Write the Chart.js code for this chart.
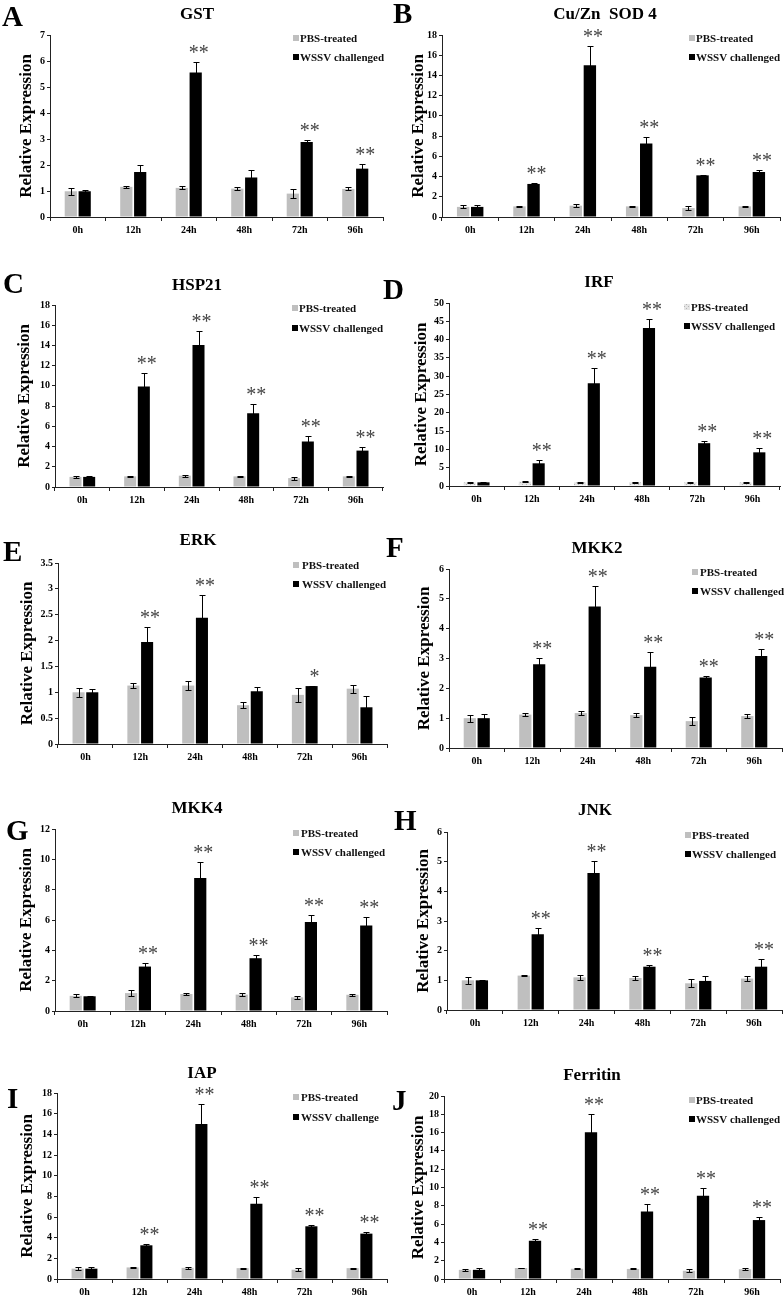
<!DOCTYPE html>
<html>
<head>
<meta charset="utf-8">
<title>Relative expression after WSSV challenge</title>
<script src="https://cdn.jsdelivr.net/npm/chart.js@4.4.1/dist/chart.umd.min.js"></script>
<style>
  html, body { margin: 0; padding: 0; background: #fff; }
  #figure { position: relative; width: 784px; height: 1296px; overflow: hidden; background: #fff; }
  #figure canvas { position: absolute; }
</style>
</head>
<body>
<div id="figure"></div>
<script>
/* ---------- data ---------- */
const timePoints = ['0h', '12h', '24h', '48h', '72h', '96h'];
const pbsName = 'PBS-treated';
const wssvName = 'WSSV challenged';

// A  GST
const gstPbs = [0.99, 1.16, 1.12, 1.09, 0.90, 1.08];
const gstPbsErr = [0.13, 0.04, 0.06, 0.07, 0.16, 0.06];
const gstWssv = [0.99, 1.73, 5.56, 1.52, 2.88, 1.86];
const gstWssvErr = [0.06, 0.26, 0.41, 0.30, 0.09, 0.17];
const gstSig = ['', '', '**', '', '**', '**'];

// B  Cu/Zn SOD 4
const sodPbs = [1.00, 1.05, 1.12, 1.05, 0.88, 1.05];
const sodPbsErr = [0.15, 0.05, 0.12, 0.05, 0.20, 0.05];
const sodWssv = [1.00, 3.27, 15.0, 7.26, 4.12, 4.45];
const sodWssvErr = [0.15, 0.05, 1.95, 0.70, 0.05, 0.22];
const sodSig = ['', '**', '**', '**', '**', '**'];

// C  HSP21
const hspPbs = [1.00, 1.05, 1.12, 1.05, 0.88, 1.05];
const hspPbsErr = [0.12, 0.05, 0.10, 0.05, 0.15, 0.05];
const hspWssv = [1.00, 9.93, 14.05, 7.30, 4.50, 3.60];
const hspWssvErr = [0.12, 1.30, 1.40, 0.90, 0.50, 0.40];
const hspSig = ['', '**', '**', '**', '**', '**'];

// D  IRF
const irfPbs = [1.00, 1.20, 1.00, 1.00, 1.00, 1.00];
const irfPbsErr = [0.10, 0.10, 0.10, 0.10, 0.10, 0.10];
const irfWssv = [1.00, 6.20, 28.1, 43.2, 11.7, 9.20];
const irfWssvErr = [0.10, 0.90, 4.10, 2.50, 0.60, 1.10];
const irfSig = ['', '**', '**', '**', '**', '**'];

// E  ERK
const erkPbs = [1.00, 1.13, 1.13, 0.75, 0.95, 1.07];
const erkPbsErr = [0.09, 0.04, 0.08, 0.06, 0.13, 0.08];
const erkWssv = [1.00, 1.97, 2.44, 1.02, 1.12, 0.71];
const erkWssvErr = [0.07, 0.30, 0.44, 0.08, 0.01, 0.22];
const erkSig = ['', '**', '**', '', '*', ''];

// F  MKK2
const mkk2Pbs = [1.00, 1.12, 1.17, 1.10, 0.90, 1.07];
const mkk2PbsErr = [0.12, 0.04, 0.08, 0.06, 0.13, 0.06];
const mkk2Wssv = [1.00, 2.81, 4.74, 2.72, 2.36, 3.08];
const mkk2WssvErr = [0.13, 0.20, 0.70, 0.50, 0.05, 0.25];
const mkk2Sig = ['', '**', '**', '**', '**', '**'];

// G  MKK4
const mkk4Pbs = [1.00, 1.18, 1.12, 1.08, 0.90, 1.07];
const mkk4PbsErr = [0.10, 0.18, 0.06, 0.10, 0.12, 0.05];
const mkk4Wssv = [0.97, 2.93, 8.77, 3.48, 5.86, 5.64];
const mkk4WssvErr = [0.04, 0.22, 1.03, 0.22, 0.46, 0.55];
const mkk4Sig = ['', '**', '**', '**', '**', '**'];

// H  JNK
const jnkPbs = [1.00, 1.16, 1.10, 1.08, 0.90, 1.06];
const jnkPbsErr = [0.12, 0.03, 0.08, 0.08, 0.14, 0.07];
const jnkWssv = [1.00, 2.55, 4.62, 1.46, 0.98, 1.46];
const jnkWssvErr = [0.02, 0.20, 0.40, 0.05, 0.15, 0.26];
const jnkSig = ['', '**', '**', '**', '', '**'];

// I  IAP
const iapPbs = [1.00, 1.12, 1.08, 1.05, 0.90, 1.05];
const iapPbsErr = [0.15, 0.05, 0.12, 0.05, 0.15, 0.05];
const iapWssv = [1.00, 3.26, 15.0, 7.29, 5.10, 4.39];
const iapWssvErr = [0.12, 0.15, 1.95, 0.62, 0.10, 0.20];
const iapSig = ['', '**', '**', '**', '**', '**'];

// J  Ferritin
const ferPbs = [1.00, 1.20, 1.12, 1.10, 0.90, 1.07];
const ferPbsErr = [0.12, 0.05, 0.04, 0.05, 0.15, 0.10];
const ferWssv = [1.00, 4.18, 16.04, 7.38, 9.09, 6.44];
const ferWssvErr = [0.18, 0.20, 1.96, 0.80, 0.90, 0.30];
const ferSig = ['', '**', '**', '**', '**', '**'];

/* ---------- style ---------- */
const FONT = "'Liberation Serif', 'Times New Roman', serif";
const PBS_GRAY = '#bfbfbf';
const AXIS = '#222';

Chart.defaults.font.family = FONT;
Chart.defaults.color = '#000';

// 點狀樣式（IRF 的 PBS 組）
function hatchPattern() {
  const c = document.createElement('canvas');
  c.width = 4; c.height = 4;
  const g = c.getContext('2d');
  g.fillStyle = '#e4e4e4';
  g.fillRect(0, 0, 4, 4);
  g.fillStyle = '#b4b4b4';
  g.fillRect(0, 0, 1, 1);
  g.fillRect(2, 2, 1, 1);
  return g.createPattern(c, 'repeat');
}

/* ---------- panels (layout in page pixels) ---------- */
const LEFT = { x: 0, w: 392 };
const RIGHT = { x: 378, w: 406 };

const panels = [
  { letter: 'A', lx: 2, ly: 26, title: 'GST', tx: 197, ty: 19, col: LEFT, top: 0, h: 260,
    plot: [50, 35, 383, 217], yMax: 7, yStep: 1, yTitleX: 27,
    leg: [293, 300, 38, 57], pbs: gstPbs, pbsErr: gstPbsErr, wssv: gstWssv, wssvErr: gstWssvErr, sig: gstSig },
  { letter: 'B', lx: 393, ly: 23, title: 'Cu/Zn  SOD 4', tx: 605, ty: 19, col: RIGHT, top: 0, h: 260,
    plot: [442, 35, 780, 217], yMax: 18, yStep: 2, yTitleX: 419,
    leg: [689, 696, 38, 57], pbs: sodPbs, pbsErr: sodPbsErr, wssv: sodWssv, wssvErr: sodWssvErr, sig: sodSig },
  { letter: 'C', lx: 3, ly: 293, title: 'HSP21', tx: 197, ty: 290, col: LEFT, top: 260, h: 260,
    plot: [55, 305, 383, 487], yMax: 18, yStep: 2, yTitleX: 25,
    leg: [292, 299, 308, 328], pbs: hspPbs, pbsErr: hspPbsErr, wssv: hspWssv, wssvErr: hspWssvErr, sig: hspSig },
  { letter: 'D', lx: 383, ly: 299, title: 'IRF', tx: 599, ty: 287, col: RIGHT, top: 260, h: 260,
    plot: [449, 303, 780, 486], yMax: 50, yStep: 5, yTitleX: 422, hatch: true,
    leg: [684, 691, 307, 326], pbs: irfPbs, pbsErr: irfPbsErr, wssv: irfWssv, wssvErr: irfWssvErr, sig: irfSig },
  { letter: 'E', lx: 3, ly: 561, title: 'ERK', tx: 198, ty: 545, col: LEFT, top: 520, h: 260,
    plot: [58, 563, 387, 744], yMax: 3.5, yStep: 0.5, yTitleX: 28,
    leg: [293, 302, 565, 584], pbs: erkPbs, pbsErr: erkPbsErr, wssv: erkWssv, wssvErr: erkWssvErr, sig: erkSig },
  { letter: 'F', lx: 386, ly: 557, title: 'MKK2', tx: 597, ty: 553, col: RIGHT, top: 520, h: 260,
    plot: [449, 569, 782, 748], yMax: 6, yStep: 1, yTitleX: 425,
    leg: [692, 700, 572, 591], pbs: mkk2Pbs, pbsErr: mkk2PbsErr, wssv: mkk2Wssv, wssvErr: mkk2WssvErr, sig: mkk2Sig },
  { letter: 'G', lx: 6, ly: 840, title: 'MKK4', tx: 197, ty: 813, col: LEFT, top: 780, h: 260,
    plot: [55, 829, 387, 1011], yMax: 12, yStep: 2, yTitleX: 27,
    leg: [293, 301, 833, 852], pbs: mkk4Pbs, pbsErr: mkk4PbsErr, wssv: mkk4Wssv, wssvErr: mkk4WssvErr, sig: mkk4Sig },
  { letter: 'H', lx: 394, ly: 830, title: 'JNK', tx: 595, ty: 815, col: RIGHT, top: 780, h: 260,
    plot: [447, 832, 782, 1010], yMax: 6, yStep: 1, yTitleX: 424,
    leg: [685, 692, 835, 854], pbs: jnkPbs, pbsErr: jnkPbsErr, wssv: jnkWssv, wssvErr: jnkWssvErr, sig: jnkSig },
  { letter: 'I', lx: 7, ly: 1108, title: 'IAP', tx: 202, ty: 1078, col: LEFT, top: 1040, h: 256,
    plot: [57, 1093, 387, 1279], yMax: 18, yStep: 2, yTitleX: 28, wssvLabel: 'WSSV challenge',
    leg: [293, 301, 1097, 1117], pbs: iapPbs, pbsErr: iapPbsErr, wssv: iapWssv, wssvErr: iapWssvErr, sig: iapSig },
  { letter: 'J', lx: 392, ly: 1110, title: 'Ferritin', tx: 592, ty: 1080, col: RIGHT, top: 1040, h: 256,
    plot: [444, 1096, 780, 1279], yMax: 20, yStep: 2, yTitleX: 419,
    leg: [689, 696, 1100, 1119], pbs: ferPbs, pbsErr: ferPbsErr, wssv: ferWssv, wssvErr: ferWssvErr, sig: ferSig }
];

const X_AXIS_H = 22;

/**
 * 單一面板
 */
function makePanel(p) {
  const fig = document.getElementById('figure');
  const canvas = document.createElement('canvas');
  const ox = p.col.x, oy = p.top, w = p.col.w, h = p.h;
  canvas.width = w;
  canvas.height = h;
  canvas.style.left = ox + 'px';
  canvas.style.top = oy + 'px';
  canvas.style.width = w + 'px';
  canvas.style.height = h + 'px';
  fig.appendChild(canvas);

  const [l, t, r, b] = p.plot;
  const pbsFill = p.hatch ? hatchPattern() : PBS_GRAY;

  // 誤差線、星號、圖例、標題
  const decor = {
    id: 'decor' + p.letter,
    afterDatasetsDraw(chart) {
      const ctx = chart.ctx;
      const ys = chart.scales.y;
      ctx.save();
      ctx.strokeStyle = '#000';
      ctx.lineWidth = 1;
      chart.data.datasets.forEach((ds, di) => {
        const meta = chart.getDatasetMeta(di);
        meta.data.forEach((bar, i) => {
          const x = Math.round(bar.x) + 0.5;
          const yTop = Math.round(ys.getPixelForValue(ds.data[i] + ds.err[i])) + 0.5;
          const yBot = Math.round(ys.getPixelForValue(Math.max(ds.data[i] - ds.err[i], 0))) + 0.5;
          ctx.beginPath();
          ctx.moveTo(x, yTop); ctx.lineTo(x, yBot);
          ctx.moveTo(x - 3, yTop); ctx.lineTo(x + 3, yTop);
          ctx.moveTo(x - 3, yBot); ctx.lineTo(x + 3, yBot);
          ctx.stroke();
        });
      });

      // 顯著性星號
      const wd = chart.data.datasets[1];
      const wm = chart.getDatasetMeta(1);
      ctx.fillStyle = '#444';
      ctx.font = '20px ' + FONT;
      ctx.textAlign = 'center';
      ctx.textBaseline = 'alphabetic';
      p.sig.forEach((s, i) => {
        if (!s) return;
        const yTop = ys.getPixelForValue(wd.data[i] + wd.err[i]);
        ctx.fillText(s, wm.data[i].x + 3, yTop - 3);
      });
      ctx.restore();
    },
    afterDraw(chart) {
      const ctx = chart.ctx;
      ctx.save();
      ctx.fillStyle = '#000';
      ctx.textBaseline = 'alphabetic';

      // 面板字母
      ctx.font = 'bold 29px ' + FONT;
      ctx.textAlign = 'left';
      ctx.fillText(p.letter, p.lx - ox, p.ly - oy);

      // 標題
      ctx.font = 'bold 17px ' + FONT;
      ctx.textAlign = 'center';
      ctx.fillText(p.title, p.tx - ox, p.ty - oy);

      // Y 軸標題
      ctx.save();
      ctx.translate(p.yTitleX - ox, (t + b) / 2 - oy);
      ctx.rotate(-Math.PI / 2);
      ctx.font = 'bold 17px ' + FONT;
      ctx.textAlign = 'center';
      ctx.textBaseline = 'middle';
      ctx.fillText('Relative Expression', 0, 0);
      ctx.restore();

      // 圖例
      const [sx, txx, y1, y2] = p.leg;
      ctx.font = 'bold 11px ' + FONT;
      ctx.textAlign = 'left';
      ctx.textBaseline = 'middle';
      ctx.fillStyle = pbsFill;
      ctx.fillRect(sx - ox, y1 - 3 - oy, 6, 6);
      ctx.fillStyle = '#000';
      ctx.fillRect(sx - ox, y2 - 3 - oy, 6, 6);
      ctx.fillStyle = '#111';
      ctx.fillText(pbsName, txx - ox, y1 - oy + 1);
      ctx.fillText(p.wssvLabel || wssvName, txx - ox, y2 - oy + 1);
      ctx.restore();
    }
  };

  const tickFont = { family: FONT, size: 10, weight: 'bold' };

  return new Chart(canvas, {
    type: 'bar',
    data: {
      labels: timePoints,
      datasets: [
        { label: pbsName, data: p.pbs, err: p.pbsErr, backgroundColor: pbsFill,
          borderWidth: 0, categoryPercentage: 0.5, barPercentage: 0.88 },
        { label: p.wssvLabel || wssvName, data: p.wssv, err: p.wssvErr, backgroundColor: '#000',
          borderWidth: 0, categoryPercentage: 0.5, barPercentage: 0.88 }
      ]
    },
    options: {
      responsive: false,
      animation: false,
      devicePixelRatio: 1,
      layout: {
        padding: { top: t - oy, right: ox + w - r, bottom: oy + h - b - X_AXIS_H, left: 0 }
      },
      plugins: {
        legend: { display: false },
        tooltip: { enabled: false },
        title: { display: false }
      },
      scales: {
        x: {
          grid: { offset: true, drawOnChartArea: false, tickLength: 4, color: AXIS, lineWidth: 1 },
          border: { color: AXIS, width: 1 },
          ticks: { font: tickFont, color: '#000', padding: 3, maxRotation: 0, autoSkip: false },
          afterFit(scale) { scale.height = X_AXIS_H; }
        },
        y: {
          min: 0,
          max: p.yMax,
          grid: { drawOnChartArea: false, tickLength: 3, color: AXIS, lineWidth: 1 },
          border: { color: AXIS, width: 1 },
          ticks: { stepSize: p.yStep, font: tickFont, color: '#000', padding: 2,
                   callback: v => String(v) },
          afterFit(scale) { scale.width = l - ox; }
        }
      }
    },
    plugins: [decor]
  });
}

panels.forEach(makePanel);
</script>
</body>
</html>
